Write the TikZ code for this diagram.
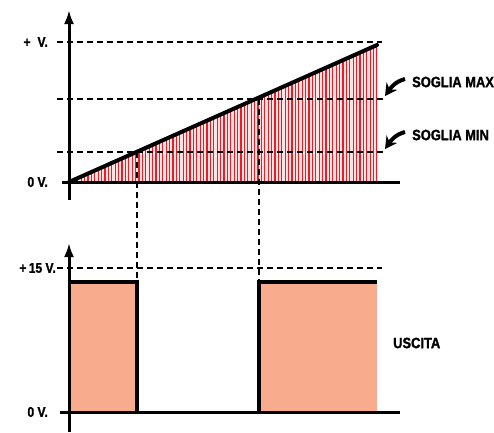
\documentclass[tikz,border=0pt]{standalone}
\usepackage{fontspec}
\newfontfamily\condbold[FakeStretch=0.86,FakeBold=1.3]{Liberation Sans Bold}
\usetikzlibrary{arrows.meta}
\definecolor{stripered}{RGB}{230,30,40}
\definecolor{stripebg}{RGB}{255,225,225}
\definecolor{salmon}{RGB}{249,171,142}
\tikzset{
  lbl/.style={font=\condbold\fontsize{14}{14}\selectfont, inner sep=0pt},
  biglbl/.style={font=\condbold\fontsize{15}{15}\selectfont, inner sep=0pt},
  guide/.style={dashed, dash pattern=on 6pt off 4pt, line width=1.2pt},
  axis/.style={line width=3pt, -{Latex[length=14pt,width=10pt]}},
  curvarrow/.style={line width=4pt, -{Stealth[length=12pt,width=13pt]}}
}

\begin{document}
\begin{tikzpicture}[x=1pt, y=-1pt]
\useasboundingbox (0,0) rectangle (494,432);
% upper graph
\coordinate (O1) at (69,182);
\coordinate (Top) at (377,45);
\coordinate (Pmin) at (137,152);
\coordinate (Pmax) at (259,99);
\fill[stripebg] (O1) -- (Top) -- (377,182) -- cycle;
\begin{scope}
\clip (O1) -- (Top) -- (377,182) -- cycle;
\foreach \x in {71,74.4,...,378}
  \draw[stripered, line width=1.3pt] (\x,40) -- (\x,182);
\end{scope}
\draw[guide] (57,42) -- (382,42);
\draw[guide] (57,99) -- (385,99);
\draw[guide] (57,152) -- (385,152);
\draw[line width=3pt] (62,182) -- (400,182);
\draw[axis] (69,200) -- (69,10);
\draw[line width=4pt, line cap=round] (O1) -- (Top);
\node[lbl, anchor=east] (pv) at (48,42) {+\hspace{7pt}V.};
\node[lbl, anchor=east] (zv1) at (48,182) {0 V.};
\node[biglbl, anchor=west] (smax) at (412,82) {SOGLIA MAX};
\node[biglbl, anchor=west] (smin) at (412,135) {SOGLIA MIN};
\draw[curvarrow] (smax.west) ++(-7,-3) coordinate (amax) to[out=195, in=55] (385,96);
\draw[curvarrow] (smin.west) ++(-7,-3) coordinate (amin) to[out=195, in=55] (385,149);
% lower graph
\coordinate (O2) at (69,412);
\fill[salmon] (69,282) rectangle (137,412);
\fill[salmon] (259,282) rectangle (377,412);
\draw[guide] (57,268) -- (382,268);
\draw[guide] (Pmin) -- (137,282);
\draw[guide] (Pmax) -- (259,282);
\draw[line width=3pt] (60,412) -- (400,412);
\draw[line width=4pt, line join=miter] (69,282) -- (137,282) -- (137,412);
\draw[line width=4pt, line join=miter] (259,412) -- (259,282) -- (377,282);
\draw[axis] (69,432) -- (69,243);
\node[lbl, anchor=east] (p15) at (56,268) {+\,15 V.};
\node[lbl, anchor=east] (zv2) at (48,412) {0 V.};
\node[biglbl, anchor=west] (usc) at (393,343) {USCITA};
\end{tikzpicture}
\end{document}
